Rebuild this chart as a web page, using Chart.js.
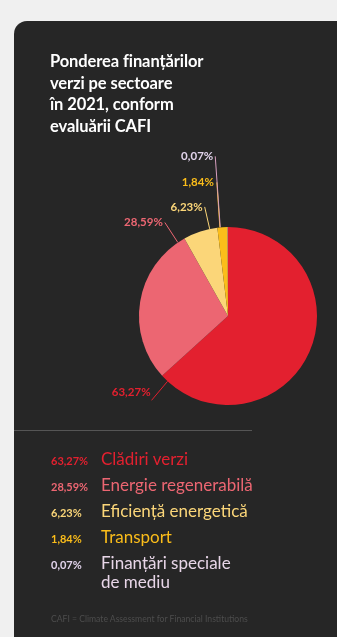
<!DOCTYPE html>
<html lang="ro">
<head>
<meta charset="utf-8">
<title>Ponderea finanțărilor verzi pe sectoare</title>
<script src="https://cdn.jsdelivr.net/npm/chart.js@4/dist/chart.umd.min.js"></script>
<style>
  html, body { margin: 0; padding: 0; background: #f0f0f0; width: 337px; height: 637px; overflow: hidden; }
  body { position: relative; font-family: Lato, "Open Sans", sans-serif; }
  .card { position: absolute; left: 14px; top: 21px; width: 335px; height: 630px; background: #262626; border-radius: 13px; }
  #chartWrap { position: absolute; left: 0; top: 0; width: 337px; height: 637px; }
  .title { position: absolute; left: 50px; top: 51px; margin: 0; color: #ffffff; font-weight: 700; font-size: 16.5px; line-height: 21.5px; letter-spacing: -0.1px; }
  .divider { position: absolute; left: 14px; top: 430px; width: 238px; height: 1px; background: #555555; }
  .legend { position: absolute; left: 51px; top: 449px; margin: 0; padding: 0; list-style: none; }
  .legend li { display: flex; align-items: baseline; height: 26px; }
  .legend .pct { width: 50px; font-size: 11px; font-weight: 700; }
  .legend .name { font-size: 17px; line-height: 19px; }
  .note { position: absolute; left: 51px; top: 614px; font-size: 8.6px; color: #4d4d4d; white-space: nowrap; }
</style>
</head>
<body>
<div class="card"></div>
<div id="chartWrap"><canvas id="chart" width="337" height="637"></canvas></div>
<h1 class="title">Ponderea finanțărilor<br>verzi pe sectoare<br>în 2021, conform<br>evaluării CAFI</h1>
<div class="divider"></div>
<ul class="legend" id="legend"></ul>
<div class="note">CAFI = Climate Assessment for Financial Institutions</div>

<script>
// Sector shares of green financing, 2021 (percent)
const sectors = ["Clădiri verzi", "Energie regenerabilă", "Eficiență energetică", "Transport", "Finanțări speciale de mediu"];
const shares = [63.27, 28.59, 6.23, 1.84, 0.07];
const shareLabels = ["63,27%", "28,59%", "6,23%", "1,84%", "0,07%"];

// Styling
const sliceColors = ["#e3202f", "#ec6672", "#fbd679", "#fbbd1a", "#d9a0c0"];
const textColors = ["#e3202f", "#ec6672", "#fbd679", "#fbbd1a", "#e2d4ec"];
// Leader line: outer end relative to the slice edge point, then text nudge from that end
const leaderOffsets = [
  { dx: -16, dy: 19, tx: -1, ty: -8 },
  { dx: -13, dy: -20, tx: -2, ty: 0 },
  { dx: -5, dy: -22, tx: -2, ty: 0 },
  { dx: -3, dy: -45, tx: -3, ty: 0 },
  { dx: -5, dy: -71, tx: -2, ty: 0 }
];

// HTML legend built from the same arrays
const legendEl = document.getElementById("legend");
sectors.forEach((name, i) => {
  const li = document.createElement("li");
  const pct = document.createElement("span");
  pct.className = "pct";
  pct.style.color = textColors[i];
  pct.textContent = shareLabels[i];
  const nm = document.createElement("span");
  nm.className = "name";
  nm.style.color = textColors[i];
  nm.textContent = name;
  if (i === sectors.length - 1) {
    nm.innerHTML = "Finanțări speciale<br>de mediu";
    nm.style.color = "#e8d6e8";
  }
  li.appendChild(pct);
  li.appendChild(nm);
  legendEl.appendChild(li);
});

// Outside labels with leader lines, anchored near the end of each slice
const leaderLabels = {
  id: "leaderLabels",
  afterDatasetsDraw(chart) {
    const ctx = chart.ctx;
    const arcs = chart.getDatasetMeta(0).data;
    ctx.save();
    ctx.font = "700 11.5px Lato, 'Open Sans', sans-serif";
    ctx.textAlign = "right";
    ctx.textBaseline = "middle";
    arcs.forEach((arc, i) => {
      const a = arc.endAngle - 5 * Math.PI / 180;
      const r = arc.outerRadius;
      const sx = arc.x + Math.cos(a) * r;
      const sy = arc.y + Math.sin(a) * r;
      const o = leaderOffsets[i];
      const ex = sx + o.dx;
      const ey = sy + o.dy;
      ctx.strokeStyle = sliceColors[i];
      ctx.lineWidth = 1;
      ctx.beginPath();
      ctx.moveTo(ex, ey);
      ctx.lineTo(sx, sy);
      ctx.stroke();
      ctx.fillStyle = textColors[i];
      ctx.fillText(shareLabels[i], ex + o.tx, ey + o.ty);
    });
    ctx.restore();
  }
};

new Chart(document.getElementById("chart"), {
  type: "pie",
  data: {
    labels: sectors,
    datasets: [{
      data: shares,
      backgroundColor: sliceColors,
      borderWidth: 0,
      hoverOffset: 0,
      offset: 0
    }]
  },
  options: {
    responsive: false,
    animation: false,
    devicePixelRatio: 1,
    layout: { padding: { left: 139, right: 20, top: 227, bottom: 232 } },
    plugins: {
      legend: { display: false },
      tooltip: { enabled: false },
      title: { display: false }
    },
    events: []
  },
  plugins: [leaderLabels]
});
</script>
</body>
</html>
